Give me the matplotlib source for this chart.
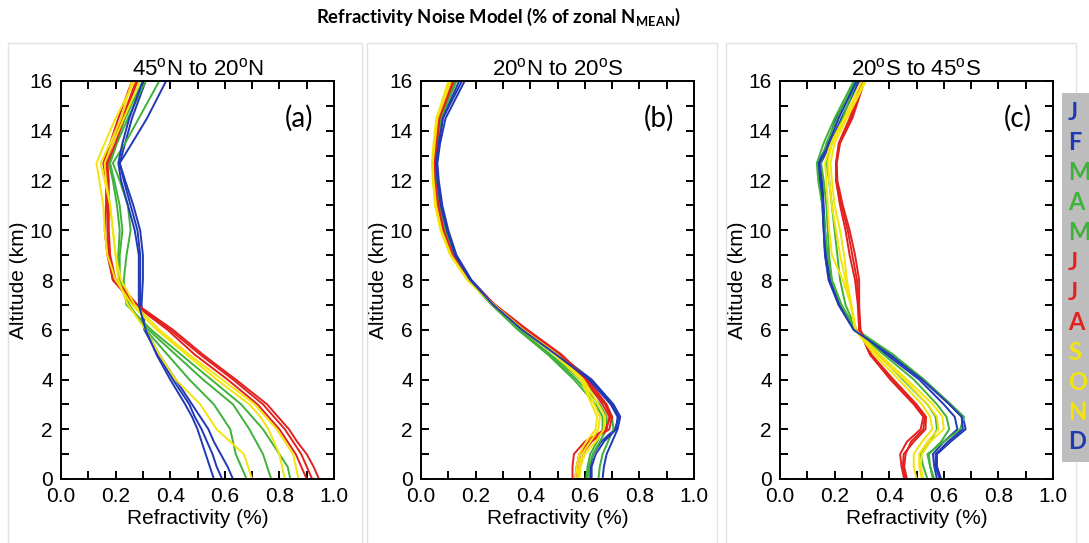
import matplotlib
matplotlib.use("Agg")
import matplotlib.pyplot as plt
from matplotlib.patches import Rectangle
from matplotlib.ticker import MultipleLocator

plt.rcParams["font.family"] = ["Liberation Sans", "DejaVu Sans"]

# altitude levels shared by every profile (km)
altitude_km = [0, 0.5, 1, 1.5, 2, 2.5, 3, 4, 5, 6, 7, 8, 9, 10, 11, 12, 12.7, 13.5, 14.5, 16]

months = ["J", "F", "M", "A", "M", "J", "J", "A", "S", "O", "N", "D"]

BLUE = "#2139b5"
GREEN = "#3fb23a"
RED = "#e3211f"
YELLOW = "#f2e40c"
month_colors = [BLUE, BLUE, GREEN, GREEN, GREEN, RED, RED, RED, YELLOW, YELLOW, YELLOW, BLUE]

# (a) 45N to 20N, refractivity noise (%) per month
north_jan = [0.59, 0.57, 0.555, 0.535, 0.515, 0.49, 0.47, 0.41, 0.355, 0.305, 0.29, 0.29, 0.29, 0.28, 0.255, 0.23, 0.215, 0.235, 0.26, 0.31]
north_feb = [0.63, 0.61, 0.585, 0.56, 0.54, 0.51, 0.48, 0.42, 0.36, 0.31, 0.295, 0.30, 0.30, 0.29, 0.265, 0.235, 0.215, 0.26, 0.315, 0.385]
north_mar = [0.68, 0.66, 0.64, 0.63, 0.62, 0.59, 0.56, 0.47, 0.39, 0.31, 0.25, 0.215, 0.215, 0.225, 0.215, 0.195, 0.18, 0.205, 0.245, 0.31]
north_apr = [0.77, 0.755, 0.74, 0.715, 0.69, 0.66, 0.63, 0.52, 0.42, 0.32, 0.245, 0.21, 0.21, 0.215, 0.205, 0.19, 0.175, 0.20, 0.235, 0.30]
north_may = [0.84, 0.83, 0.80, 0.77, 0.74, 0.70, 0.66, 0.55, 0.44, 0.33, 0.24, 0.23, 0.24, 0.255, 0.245, 0.215, 0.19, 0.235, 0.285, 0.36]
north_jun = [0.90, 0.88, 0.86, 0.83, 0.80, 0.76, 0.72, 0.61, 0.49, 0.39, 0.27, 0.19, 0.17, 0.16, 0.165, 0.165, 0.155, 0.18, 0.21, 0.26]
north_jul = [0.92, 0.90, 0.88, 0.85, 0.82, 0.78, 0.74, 0.63, 0.51, 0.40, 0.275, 0.19, 0.175, 0.17, 0.17, 0.17, 0.165, 0.19, 0.225, 0.275]
north_aug = [0.945, 0.925, 0.90, 0.865, 0.835, 0.795, 0.755, 0.64, 0.52, 0.41, 0.28, 0.20, 0.18, 0.175, 0.175, 0.175, 0.17, 0.20, 0.23, 0.28]
north_sep = [0.70, 0.685, 0.67, 0.62, 0.57, 0.54, 0.51, 0.42, 0.36, 0.31, 0.245, 0.21, 0.20, 0.19, 0.18, 0.16, 0.145, 0.18, 0.22, 0.26]
north_oct = [0.82, 0.81, 0.80, 0.78, 0.76, 0.73, 0.69, 0.57, 0.46, 0.35, 0.26, 0.20, 0.17, 0.16, 0.155, 0.14, 0.13, 0.16, 0.20, 0.27]
north_nov = [0.87, 0.86, 0.85, 0.82, 0.79, 0.75, 0.71, 0.59, 0.47, 0.36, 0.27, 0.22, 0.20, 0.19, 0.18, 0.165, 0.16, 0.19, 0.23, 0.29]
north_dec = [0.56, 0.545, 0.53, 0.515, 0.50, 0.48, 0.455, 0.40, 0.35, 0.31, 0.285, 0.285, 0.285, 0.27, 0.245, 0.22, 0.21, 0.225, 0.25, 0.30]

# (b) 20N to 20S
trop_jan = [0.62, 0.62, 0.63, 0.66, 0.71, 0.725, 0.70, 0.62, 0.50, 0.37, 0.265, 0.18, 0.125, 0.095, 0.075, 0.062, 0.058, 0.066, 0.08, 0.15]
trop_feb = [0.665, 0.67, 0.68, 0.70, 0.72, 0.73, 0.705, 0.625, 0.505, 0.375, 0.27, 0.185, 0.13, 0.10, 0.078, 0.065, 0.06, 0.07, 0.09, 0.16]
trop_mar = [0.605, 0.61, 0.62, 0.645, 0.665, 0.665, 0.64, 0.56, 0.465, 0.355, 0.26, 0.175, 0.12, 0.09, 0.07, 0.058, 0.054, 0.06, 0.075, 0.13]
trop_apr = [0.65, 0.655, 0.665, 0.685, 0.705, 0.70, 0.675, 0.585, 0.475, 0.36, 0.26, 0.175, 0.12, 0.088, 0.068, 0.055, 0.052, 0.058, 0.072, 0.125]
trop_may = [0.61, 0.615, 0.63, 0.655, 0.68, 0.68, 0.655, 0.57, 0.47, 0.358, 0.26, 0.173, 0.118, 0.087, 0.066, 0.054, 0.05, 0.056, 0.07, 0.12]
trop_jun = [0.555, 0.555, 0.56, 0.60, 0.675, 0.695, 0.675, 0.605, 0.51, 0.385, 0.27, 0.175, 0.115, 0.082, 0.062, 0.05, 0.047, 0.055, 0.065, 0.115]
trop_jul = [0.565, 0.57, 0.58, 0.615, 0.69, 0.70, 0.68, 0.61, 0.515, 0.39, 0.272, 0.176, 0.116, 0.083, 0.063, 0.052, 0.05, 0.058, 0.068, 0.12]
trop_aug = [0.575, 0.58, 0.59, 0.625, 0.68, 0.69, 0.665, 0.60, 0.505, 0.38, 0.268, 0.174, 0.114, 0.081, 0.062, 0.05, 0.048, 0.056, 0.066, 0.11]
trop_sep = [0.565, 0.57, 0.58, 0.605, 0.64, 0.645, 0.625, 0.585, 0.49, 0.37, 0.265, 0.17, 0.108, 0.072, 0.052, 0.044, 0.042, 0.048, 0.058, 0.10]
trop_oct = [0.575, 0.58, 0.59, 0.62, 0.65, 0.655, 0.635, 0.59, 0.495, 0.372, 0.266, 0.17, 0.108, 0.072, 0.052, 0.044, 0.04, 0.046, 0.056, 0.105]
trop_nov = [0.58, 0.585, 0.60, 0.64, 0.67, 0.675, 0.65, 0.595, 0.50, 0.375, 0.268, 0.172, 0.11, 0.075, 0.055, 0.046, 0.043, 0.05, 0.06, 0.11]
trop_dec = [0.625, 0.625, 0.64, 0.67, 0.715, 0.72, 0.695, 0.615, 0.495, 0.37, 0.265, 0.18, 0.125, 0.095, 0.072, 0.06, 0.055, 0.065, 0.08, 0.14]

# (c) 20S to 45S
south_jan = [0.575, 0.565, 0.56, 0.60, 0.65, 0.64, 0.60, 0.51, 0.39, 0.27, 0.215, 0.18, 0.165, 0.16, 0.155, 0.145, 0.14, 0.175, 0.205, 0.285]
south_feb = [0.59, 0.575, 0.575, 0.625, 0.68, 0.67, 0.625, 0.525, 0.41, 0.275, 0.22, 0.185, 0.17, 0.165, 0.16, 0.155, 0.15, 0.185, 0.225, 0.29]
south_mar = [0.54, 0.525, 0.515, 0.55, 0.575, 0.57, 0.54, 0.45, 0.36, 0.28, 0.24, 0.22, 0.21, 0.20, 0.19, 0.18, 0.17, 0.19, 0.23, 0.28]
south_apr = [0.565, 0.55, 0.545, 0.59, 0.62, 0.61, 0.575, 0.49, 0.38, 0.275, 0.225, 0.19, 0.175, 0.165, 0.155, 0.14, 0.135, 0.16, 0.20, 0.27]
south_may = [0.56, 0.55, 0.54, 0.60, 0.66, 0.674, 0.625, 0.527, 0.415, 0.28, 0.225, 0.19, 0.18, 0.175, 0.17, 0.16, 0.15, 0.17, 0.21, 0.275]
south_jun = [0.455, 0.445, 0.44, 0.465, 0.515, 0.525, 0.49, 0.404, 0.33, 0.29, 0.285, 0.275, 0.255, 0.24, 0.22, 0.205, 0.205, 0.215, 0.255, 0.30]
south_jul = [0.46, 0.45, 0.453, 0.49, 0.533, 0.535, 0.50, 0.415, 0.335, 0.295, 0.29, 0.29, 0.275, 0.255, 0.23, 0.21, 0.208, 0.22, 0.265, 0.31]
south_aug = [0.465, 0.455, 0.46, 0.48, 0.525, 0.53, 0.495, 0.41, 0.33, 0.29, 0.288, 0.282, 0.265, 0.248, 0.225, 0.207, 0.206, 0.218, 0.26, 0.305]
south_sep = [0.50, 0.49, 0.49, 0.52, 0.558, 0.55, 0.52, 0.435, 0.345, 0.275, 0.26, 0.23, 0.19, 0.18, 0.175, 0.17, 0.165, 0.185, 0.235, 0.30]
south_oct = [0.525, 0.515, 0.52, 0.55, 0.60, 0.595, 0.56, 0.465, 0.365, 0.278, 0.262, 0.245, 0.235, 0.22, 0.20, 0.19, 0.185, 0.20, 0.245, 0.315]
south_nov = [0.52, 0.51, 0.51, 0.54, 0.58, 0.575, 0.54, 0.455, 0.355, 0.276, 0.258, 0.24, 0.22, 0.205, 0.19, 0.18, 0.175, 0.19, 0.24, 0.31]
south_dec = [0.585, 0.57, 0.57, 0.615, 0.67, 0.665, 0.62, 0.52, 0.40, 0.27, 0.215, 0.178, 0.165, 0.16, 0.157, 0.15, 0.145, 0.18, 0.215, 0.28]

panel_titles = [r"45$^\mathregular{o}$N to 20$^\mathregular{o}$N",
                r"20$^\mathregular{o}$N to 20$^\mathregular{o}$S",
                r"20$^\mathregular{o}$S to 45$^\mathregular{o}$S"]
panel_tags = ["(a)", "(b)", "(c)"]
panel_profiles = [
    [north_jan, north_feb, north_mar, north_apr, north_may, north_jun,
     north_jul, north_aug, north_sep, north_oct, north_nov, north_dec],
    [trop_jan, trop_feb, trop_mar, trop_apr, trop_may, trop_jun,
     trop_jul, trop_aug, trop_sep, trop_oct, trop_nov, trop_dec],
    [south_jan, south_feb, south_mar, south_apr, south_may, south_jun,
     south_jul, south_aug, south_sep, south_oct, south_nov, south_dec],
]

W, H = 1089, 543
fig = plt.figure(figsize=(W / 100, H / 100), dpi=100)

# light frames around each panel
for x0, x1 in [(8, 362), (367, 717), (726, 1076)]:
    fig.patches.append(Rectangle((x0 / W, -0.05), (x1 - x0) / W, (H - 43) / H + 0.05,
                                 transform=fig.transFigure, fill=False,
                                 edgecolor="#e2e2e2", linewidth=1.0))

fig.text(498 / W, 1 - 17 / H, r"Refractivity Noise Model (% of zonal N$_\mathregular{MEAN}$)",
         ha="center", va="center", fontsize=13.3, fontweight="bold", family="Lato")

axes_left = [61, 421, 780]
for i, left in enumerate(axes_left):
    ax = fig.add_axes([left / W, (H - 479) / H, 273 / W, 398 / H])
    for prof, col in zip(panel_profiles[i], month_colors):
        ax.plot(prof, altitude_km, color=col, linewidth=1.4, solid_joinstyle="round")
    ax.set_xlim(0, 1.0)
    ax.set_ylim(0, 16)
    ax.xaxis.set_major_locator(MultipleLocator(0.2))
    ax.xaxis.set_minor_locator(MultipleLocator(0.1))
    ax.yaxis.set_major_locator(MultipleLocator(2))
    ax.yaxis.set_minor_locator(MultipleLocator(1))
    ax.xaxis.set_major_formatter(plt.FormatStrFormatter("%.1f"))
    ax.tick_params(which="both", direction="in", top=True, right=True,
                   length=6, width=1.4, labelsize=15, pad=6)
    for s in ax.spines.values():
        s.set_linewidth(1.4)
    ax.set_xlabel("Refractivity (%)", fontsize=15, labelpad=2)
    ax.set_ylabel("Altitude (km)", fontsize=15, labelpad=1)
    ax.set_title(panel_titles[i], fontsize=16, pad=4)
    ax.text(0.87, 0.907, panel_tags[i], transform=ax.transAxes, ha="center",
            va="center", fontsize=20, family="Lato")

# month colour key on the right edge
fig.patches.append(Rectangle((1062 / W, 1 - 462 / H), 30 / W, (462 - 93) / H,
                             transform=fig.transFigure, facecolor="#bdbdbd",
                             edgecolor="none"))
for k, (m, col) in enumerate(zip(months, month_colors)):
    fig.text(1068 / W, 1 - (113 + k * 29.9) / H, m, color=col, fontsize=17,
             fontweight="bold", family="Lato", ha="left", va="center")

fig.savefig("out.png", dpi=100)
